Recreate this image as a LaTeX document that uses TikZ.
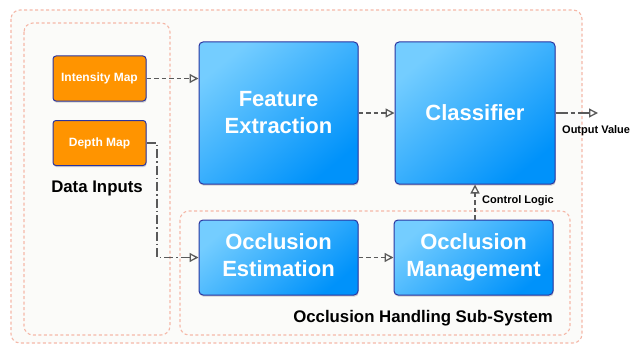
\documentclass[tikz,border=0pt]{standalone}
\usepackage{fontspec}
\setmainfont{Liberation Sans}
\usetikzlibrary{arrows.meta,shadows,positioning}
\definecolor{bgfill}{HTML}{FBFBF9}
\definecolor{pinkdash}{HTML}{F5B8A8}
\definecolor{orangefill}{HTML}{FF9400}
\definecolor{boxborder}{HTML}{2A35A0}
\definecolor{bluelight}{HTML}{74CDFF}
\definecolor{bluedark}{HTML}{0092FA}
\definecolor{arrowgray}{HTML}{5A5A5A}
\tikzset{
  groupbox/.style={draw=pinkdash, line width=1.1pt, dash pattern=on 3pt off 2.5pt, rounded corners=9pt},
  inputbox/.style={draw=boxborder, line width=1pt, fill=orangefill, rounded corners=3pt,
    minimum width=93pt, minimum height=45pt, inner sep=0pt, text=white,
    font=\bfseries\fontsize{12}{14}\selectfont,
    drop shadow={shadow xshift=0.6pt, shadow yshift=-1.6pt, opacity=0.35}},
  procbox/.style={draw=boxborder, line width=1pt, rounded corners=4pt,
    top color=bluelight, bottom color=bluedark, shading angle=40,
    inner sep=0pt, text=white, align=center,
    font=\bfseries\fontsize{22}{27}\selectfont,
    drop shadow={shadow xshift=0.6pt, shadow yshift=-1.6pt, opacity=0.35}},
  flow/.style={draw=arrowgray, line width=1.3pt, dash pattern=on 4.5pt off 3pt,
    -{Triangle[open, length=9pt, width=9pt, line width=1.3pt]}},
  lbl/.style={font=\bfseries\fontsize{11}{13}\selectfont, inner sep=0pt},
  grouplbl/.style={font=\bfseries\fontsize{16.8}{19}\selectfont, inner sep=0pt}
}
\begin{document}
\begin{tikzpicture}[x=1pt,y=-1pt]
\useasboundingbox[fill=white] (0,0) rectangle (639,345);
% group boxes
\path[groupbox, fill=bgfill] (11,10) rectangle (582,343);
\path[groupbox] (24,23) rectangle (170,335);
\path[groupbox] (180,211) rectangle (570,335);
% input boxes
\node[inputbox] (intensity) at (99.5,78.5) {Intensity Map};
\node[inputbox] (depth) at (99.5,143) {Depth Map};
% process boxes
\node[procbox, minimum width=159pt, minimum height=142pt] (feature) at (278.5,113) {Feature\\Extraction};
\node[procbox, minimum width=160pt, minimum height=142pt] (classifier) at (475,113) {Classifier};
\node[procbox, minimum width=159pt, minimum height=75pt] (occest) at (278.5,257.5) {Occlusion\\Estimation\vphantom{g}};
\node[procbox, minimum width=159pt, minimum height=75pt] (occman) at (473.5,257.5) {Occlusion\\Management};
% labels
\node[grouplbl] (datalbl) at (97,188) {Data Inputs};
\node[grouplbl, anchor=east] (occlbl) at (553,318) {Occlusion Handling Sub-System};
\node[lbl, anchor=west] (ctrllbl) at (482,201) {Control Logic};
\node[lbl, anchor=west] (outlbl) at (562,131) {Output Value};
\coordinate (outend) at (598,113);
% connectors
\draw[flow] (intensity.east) -- (feature.west |- intensity.east);
\draw[flow, dash pattern=on 9pt off 3pt on 1.5pt off 3pt] (depth.east) -- (157,143) -- (157,257.5) -- (occest.west);
\draw[flow] (feature.east) -- (classifier.west);
\draw[flow, dash pattern=on 12pt off 3pt on 4.5pt off 3pt] (classifier.east) -- (outend);
\draw[flow] (occman.north -| 475,0) -- (classifier.south -| 475,0);
\draw[flow] (occest.east) -- (occman.west |- occest.east);
\end{tikzpicture}
\end{document}
